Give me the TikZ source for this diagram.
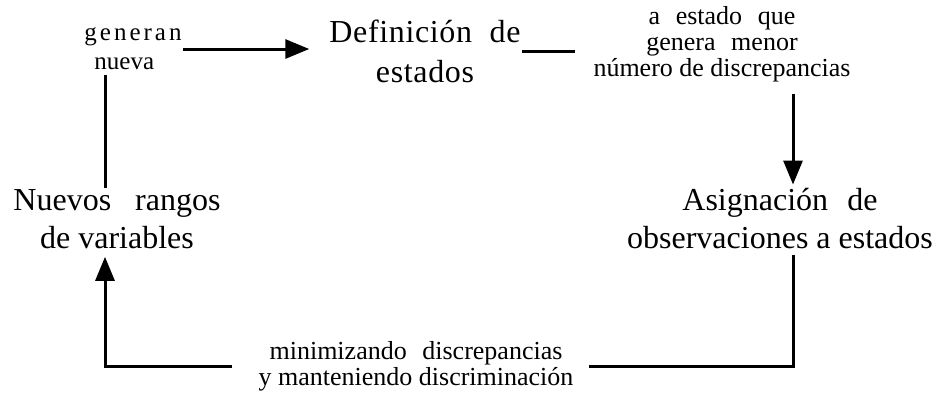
\documentclass[tikz,border=0pt]{standalone}
\usepackage{fontspec}
\setmainfont{Liberation Serif}
\usetikzlibrary{arrows.meta}

\begin{document}
\begin{tikzpicture}[x=1pt,y=-1pt,
  big/.style={font=\fontsize{32}{38}\selectfont,align=center,inner sep=1pt},
  small/.style={font=\fontsize{26}{26}\selectfont,align=center,inner sep=1pt},
  line/.style={line width=3pt},
  arr/.style={line width=3pt,-{Triangle[length=24pt,width=19pt]}}]
\useasboundingbox (0,0) rectangle (946,392);
\node[big,font=\fontsize{32}{40}\selectfont\addfontfeature{LetterSpace=2}] (def) at (425,51) {Definición\hspace{0.55em}de\\estados};
\node[big] (asig) at (780,219) {Asignación\hspace{0.6em}de\\observaciones a estados};
\node[big] (nuevos) at (117,219) {Nuevos\hspace{0.75em}rangos\\de variables};
\node[small,font=\fontsize{25}{29}\selectfont,align=left] (gen) at (133,49) {{\addfontfeature{LetterSpace=12}generan}\\\hspace*{10pt}nueva};
\node[small] (cap) at (722,44) {a\hspace{0.6em}estado\hspace{0.6em}que\\genera\hspace{0.6em}menor\\número de discrepancias};
\node[small] (bot) at (416,366) {minimizando\hspace{0.6em}discrepancias\\y manteniendo discriminación};
\coordinate (asigin) at ([xshift=13pt,yshift=3pt]asig.north);
\coordinate (asigout) at ([xshift=13pt,yshift=-5pt]asig.south);
\draw[arr,shorten >=19pt] (gen.east) -- (gen.east -| def.west);
\draw[line,shorten >=17pt] (def.east) -- (def.east -| cap.west);
\draw[arr] ([yshift=-11pt]cap.south -| asigin) -- (asigin);
\draw[line,shorten >=14pt] (asigout) |- (bot.east);
\draw[arr,shorten <=25pt] (bot.west) -| ([xshift=-12pt,yshift=-7pt]nuevos.south);
\draw[line] ([xshift=-12pt]nuevos.north) -- ([xshift=-12pt,yshift=-4pt]nuevos.north |- gen.south);
\end{tikzpicture}
\end{document}
